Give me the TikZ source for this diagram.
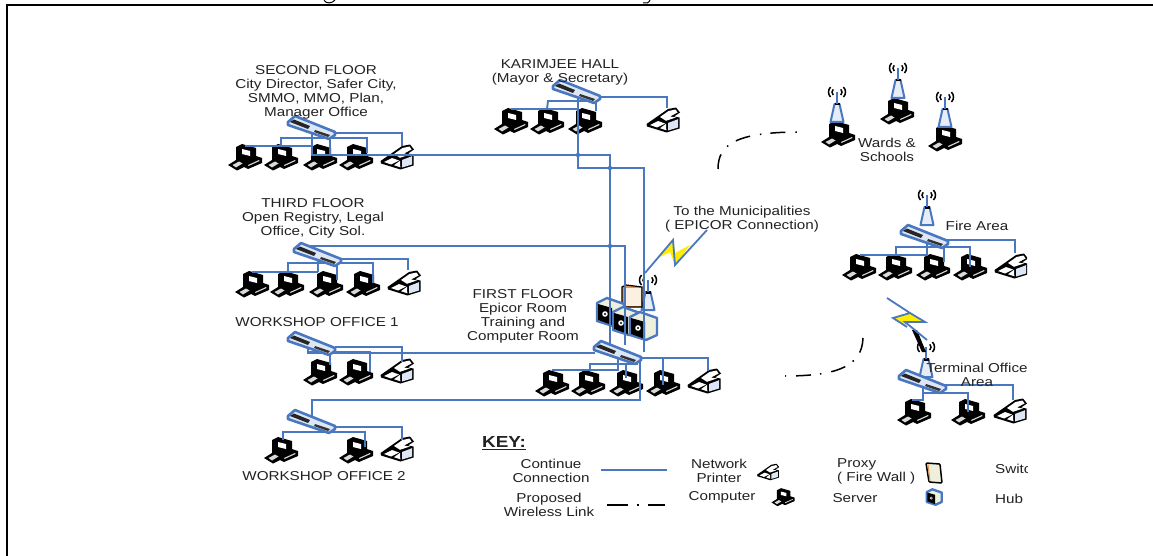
\documentclass[tikz,border=0pt]{standalone}
\usepackage{fontspec}
\setmainfont[FakeStretch=1.18]{Liberation Sans}
\usetikzlibrary{calc}
\definecolor{netblue}{HTML}{4A78C0}
\definecolor{txt}{HTML}{222222}
\definecolor{swfill}{HTML}{DCE6F4}
\definecolor{cream}{HTML}{EEEFDC}
\definecolor{fwedge}{HTML}{E8924A}
\tikzset{
 lan/.style={draw=netblue,line width=1.9pt},
 wlink/.style={draw=black,line width=1.5pt,dash pattern=on 15pt off 10pt on 1.5pt off 9pt},
 lbl/.style={font=\fontsize{12.9}{14}\selectfont,text=txt,align=center,inner sep=0pt},
 dot/.style={circle,fill=netblue,inner sep=0pt,minimum size=4.5pt},
 pics/computer/.style={code={
  \fill[black,line join=round] (-17,8)--(-9,3)--(-9,-10)--(-3,-13)--(11,-9)--(11,-1)--(17,1)--(17,6)--(3,12)--(-1,10)--(-8,13.5)--cycle;
  \fill[white] (-3,-8)--(5,-6)--(5,-1)--(-3,-3)--cycle;
  \fill[white!85!black] (-12.5,8)--(-6,4.5)--(-2.5,6.5)--(-9,10.5)--cycle;
  \fill[white!85!black] (3,8)--(14,3)--(14.5,4)--(3.5,9)--cycle;
 }},
 pics/printer/.style={code={
  \fill[black,line join=round] (-16.5,4)--(-5,-4)--(5,-11)--(13,-12.5)--(17,-7.5)--(11,-3.5)--(16.5,-2.5)--(16.5,8.5)--(3.5,12.5)--(-16,6.5)--cycle;
  \fill[white] (-3,-3)--(5.5,-9)--(12.5,-10.5)--(14.5,-7.5)--(7,-3.5)--(13,-2.5)--(3,0.8)--cycle;
  \fill[swfill] (5,3)--(15,-0.8)--(15,7.5)--(5,10.5)--cycle;
  \fill[white] (-13,5)--(-5,1)--(2,3.5)--(-6,7.5)--cycle;
  \fill[white] (-3,8.2)--(3,3.8)--(3.3,10.3)--cycle;
 }},
 pics/netswitch/.style={code={
  \filldraw[fill=swfill,draw=netblue,line width=2.6pt,line join=round] (-24,-5)--(-17,-11)--(23,5)--(23,8)--(17,12)--(-24,-2)--cycle;
  \fill[black!85] (-22,-5)--(-18,-7.5)--(-2,-1)--(-4,2)--cycle;
  \fill[black!80] (3,3)--(18,8)--(16,10)--(2,5)--cycle;
 }},
 pics/tower/.style={code={
  \filldraw[fill=swfill!70,draw=netblue,line width=2pt,line join=round] (-6.5,0)--(-2.5,-18)--(2.5,-18)--(6.5,0)--cycle;
  \fill[black] (-2.5,-19) rectangle (2.5,-16.5);
  \draw[netblue,line width=2.2pt] (0,-18)--(0,-30);
  \draw[black,line width=1.5pt] (-6.45,-25) arc[start angle=135,end angle=225,radius=7];
  \draw[black,line width=1.5pt] (-3.83,-27) arc[start angle=135,end angle=225,radius=4];
  \draw[black,line width=1.5pt] (6.45,-25) arc[start angle=45,end angle=-45,radius=7];
  \draw[black,line width=1.5pt] (3.83,-27) arc[start angle=45,end angle=-45,radius=4];
 }},
 pics/server/.style={code={
  \filldraw[fill=cream,draw=netblue,line width=2.4pt,line join=round] (-13,-9)--(-3,-14)--(14,-8)--(14,9)--(3,14)--(-13,9)--cycle;
  \fill[black] (-12,-8)--(2,-4)--(2,13)--(-12,8)--cycle;
  \fill[white] (-5,2) circle (2.8);
  \fill[black] (-5,2) circle (1.1);
 }},
}
\begin{document}
\begin{tikzpicture}[x=1pt,y=-1pt]
\useasboundingbox (0,0) rectangle (1153,556);
\fill[white] (0,0) rectangle (1153,556);
\begin{scope}
\clip (0,0) rectangle (1027,556);
% positions
\foreach \n/\x/\y in {
 s2/312/127,c2a/245/157,c2b/281/157,c2c/320/157,c2d/356/157,p2/397/157,
 sk/577/91,cka/511/121,ckb/547/121,ckc/585/121,pk/663/120,
 s3/318/254,c3a/252/284,c3b/287/284,c3c/326/284,c3d/363/284,p3/404/283,
 sw1/312/343,c4a/320/372,c4b/356/372,p4/397/371,
 sw2/312/421,c5a/281/450,c5b/356/450,p5/397/449,
 s1/618/352,c1a/552/383,c1b/588/383,c1c/626/383,c1d/663/383,p1/704/381,
 sf/925/236,cfa/859/267,cfb/895/267,cfc/933/267,cfd/970/267,pf/1011/266,
 st/923/381,cta/914/412,ctb/968/412,pt/1010/411,
 cwa/838/134,cwb/897/111,cwc/945/138}
 {\coordinate (\n) at (\x,\y);}
% icons: computers and printers
\foreach \n in {c2a,c2b,c2c,c2d,cka,ckb,ckc,c3a,c3b,c3c,c3d,c4a,c4b,c5a,c5b,c1a,c1b,c1c,c1d,cfa,cfb,cfc,cfd,cta,ctb,cwa,cwb,cwc}
 {\pic at (\n) {computer};}
\foreach \n in {p2,pk,p3,p4,p5,p1,pf,pt}
 {\pic at (\n) {printer};}
% towers
\coordinate (tf) at (648,310);
\coordinate (twa) at (837,122);
\coordinate (twb) at (898,98);
\coordinate (twc) at (945,127);
\coordinate (tff) at (927,225);
\coordinate (tt) at (926,377);
\foreach \n in {tf,twa,twb,twc,tff,tt} {\pic at (\n) {tower};}
% firewall and servers
\coordinate (fw) at (632,296);
\filldraw[fill=fwedge,draw=black,line width=1.2pt] ($(fw)+(-10,-9)$)--($(fw)+(-6,-11)$)--($(fw)+(10,-9)$)--($(fw)+(10,11)$)--($(fw)+(-10,11)$)--cycle;
\fill[cream!70!orange!30!white] ($(fw)+(-6,-8)$) rectangle ($(fw)+(9,10)$);
\foreach \n/\x/\y in {srva/610/312,srvb/626/321,srvc/643/326} {\coordinate (\n) at (\x,\y); \pic at (\n) {server};}
% LAN wiring
\begin{scope}[lan]
% second floor
\draw (c2a |- 0,146) -- (312,146);
\draw (c2b |- 0,146) -- ++(0,-8) -- (367,138) -- (367,153);
\draw (330,139) -- (330,155);
\draw (312,130) -- (312,155) -- (610,155) -- (610,345);
\draw (335,133) -- (402,133) -- (402,146);
% Karimjee
\draw (cka |- 0,109) -- (578,109);
\draw (ckb |- 0,109) -- (548,101) -- (596,101) -- (596,111);
\draw (578,96) -- (578,168) -- (644,168) -- (644,352);
\draw (598,97) -- (667,97) -- (667,108);
% third floor
\draw (308,252) -- (308,246) -- (625,246) -- (625,345);
\draw (c3a |- 0,272) -- (318,272);
\draw (318,258) -- (318,272);
\draw (288,272) -- (288,263) -- (373,263) -- (373,283);
\draw (337,263) -- (337,280);
\draw (341,259) -- (408,259) -- (408,270);
% workshop 1
\draw (308,345) -- (308,353) -- (595,353);
\draw (308,352) -- (370,352) -- (370,372);
\draw (330,352) -- (330,365);
\draw (335,347) -- (402,347) -- (402,362);
% workshop 2
\draw (312,417) -- (312,400) -- (640,400) -- (640,356);
\draw (283,440) -- (283,432) -- (365,432) -- (365,447);
\draw (335,427) -- (402,427) -- (402,440);
% first floor
\draw (552,370) -- (618,370) -- (618,355);
\draw (590,370) -- (590,364) -- (638,364);
\draw (626,364) -- (626,378);
\draw (640,358) -- (708,358) -- (708,371);
\draw (663,358) -- (663,385);
% fire area
\draw (860,255) -- (927,255) -- (927,240);
\draw (896,255) -- (896,247) -- (970,247) -- (970,267);
\draw (944,247) -- (944,262);
\draw (947,240) -- (1015,240) -- (1015,253);
% terminal
\draw (912,400) -- (923,400) -- (923,385);
\draw (923,393) -- (968,393) -- (968,412);
\draw (945,385) -- (1013,385) -- (1013,400);
\end{scope}
\foreach \n/\x/\y in {ja/578/155,jb/610/168,jc/610/246} {\node[dot] (\n) at (\x,\y) {};}
\foreach \n in {s2,sk,s3,sw1,sw2,s1,sf,st} {\pic at (\n) {netswitch};}
% lightning: municipalities
\fill[yellow!95!orange] (660,257)--(673,240)--(675,253)--(690,245)--(675,265)--(670,252)--cycle;
\draw[netblue,line width=1.8pt,line join=miter] (645,273)--(673,240)--(675,265)--(707,230);
% lightning: terminal
\fill[black] (912,330)--(917,330)--(926,352)--(922,352)--cycle;
\fill[yellow!95!orange] (893,318)--(910,313)--(925,322)--(905,322)--(907,327)--cycle;
\draw[netblue,line width=1.8pt] (887,298)--(910,313)--(893,318)--(907,327) (910,313)--(925,322)--(905,322)--(927,340);
% proposed wireless links
\coordinate (la) at (718,169);
\coordinate (lb) at (800,132);
\coordinate (lc) at (863,338);
\coordinate (ld) at (785,376);
\draw[wlink] (la) .. controls (718,145) and (735,132) .. (lb);
\draw[wlink] (lc) .. controls (862,365) and (840,376) .. (ld);
% labels
\node[lbl] (l2) at (316,92) {SECOND FLOOR\\City Director, Safer City,\\SMMO, MMO, Plan,\\Manager Office};
\node[lbl] (lk) at (560,72) {KARIMJEE HALL\\(Mayor \& Secretary)};
\node[lbl] (l3) at (313,218) {THIRD FLOOR\\Open Registry, Legal\\Office, City Sol.};
\node[lbl] (lw1) at (317,322.5) {WORKSHOP OFFICE 1};
\node[lbl] (lw2) at (324,476.5) {WORKSHOP OFFICE 2};
\node[lbl] (l1) at (523,316) {FIRST FLOOR\\Epicor Room\\Training and\\Computer Room};
\node[lbl] (lm) at (742,219) {To the Municipalities\\( EPICOR Connection)};
\node[lbl] (lwa) at (887,150) {Wards \&\\Schools};
\node[lbl] (lfa) at (977,225.5) {Fire Area};
\node[lbl] (lta) at (977,375) {Terminal Office\\Area};
% key
\node[lbl,anchor=west,font=\fontsize{16}{18}\selectfont\bfseries] (lkey) at (482,443) {\underline{KEY:}};
\node[lbl] (k1) at (551,471) {Continue\\Connection};
\coordinate (k1a) at (601,470); \coordinate (k1b) at (667,470);
\draw[netblue,line width=1.2pt] (k1a) -- (k1b);
\node[lbl] (k2) at (549,505) {Proposed\\Wireless Link};
\coordinate (k2a) at (607,505); \coordinate (k2b) at (628,505); \coordinate (k2c) at (637,505); \coordinate (k2d) at (639,505); \coordinate (k2e) at (648,505); \coordinate (k2f) at (665,505);
\draw[black,line width=1.3pt] (k2a)--(k2b) (k2c)--(k2d) (k2e)--(k2f);
\node[lbl] (k3) at (719,471) {Network\\Printer};
\node[lbl] (k4) at (722,497) {Computer};
\node[lbl,align=left,anchor=west] (k5) at (837,471) {Proxy\\( Fire Wall )};
\node[lbl] (k6) at (855,498.5) {Server};
\node[lbl,anchor=west] (k7) at (995,468.5) {Switch};
\node[lbl,anchor=west] (k8) at (995,498.5) {Hub};
\pic[scale=.66] at (768,472) {printer};
\pic[scale=.68] at (783,497) {computer};
\pic[scale=.55] at (934,497) {server};
\coordinate (kp) at (934,473);
\filldraw[fill=cream,draw=black,line width=1.5pt,rounded corners=1pt] ($(kp)+(-8,-10)$)--($(kp)+(6,-9)$)--($(kp)+(8,10)$)--($(kp)+(-5,9)$)--cycle;
\draw[fwedge,line width=1pt] ($(kp)+(-6,-8.5)$)--($(kp)+(-4,8)$);
\end{scope}
% frame
\draw[black,line width=2pt] (7,556)--(7,5.5)--(1153,5.5);
% descenders of the cropped title line
\draw[black,line width=1pt] (324,0.3) .. controls (326,3.8) and (332,3.8) .. (335,0);
\draw[black,line width=1pt] (650,0) .. controls (649,3.2) and (646,3.4) .. (643,3);
\end{tikzpicture}
\end{document}
